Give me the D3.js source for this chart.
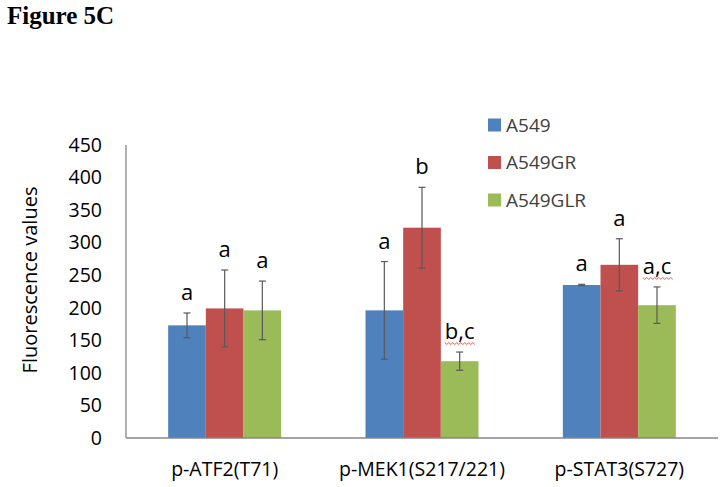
<!DOCTYPE html>
<html>
<head>
<meta charset="utf-8">
<script src="https://cdn.jsdelivr.net/npm/d3@7"></script>
<style>
  html, body { margin: 0; padding: 0; background: #fff; }
  svg { display: block; }
</style>
</head>
<body>
<svg id="chart" width="726" height="487"></svg>
<script>
const categories = ["p-ATF2(T71)", "p-MEK1(S217/221)", "p-STAT3(S727)"];
const seriesNames = ["A549", "A549GR", "A549GLR"];
const seriesColors = ["#4F81BD", "#C0504D", "#9BBB59"];
const a549Values = [173, 196, 235];
const a549Errors = [19, 75, 1];
const a549GRValues = [199, 323, 266];
const a549GRErrors = [59, 62, 40];
const a549GLRValues = [196, 118, 204];
const a549GLRErrors = [45, 14, 28];
const a549Letters = ["a", "a", "a"];
const a549GRLetters = ["a", "b", "a"];
const a549GLRLetters = ["a", "b,c", "a,c"];
const yTicks = [0, 50, 100, 150, 200, 250, 300, 350, 400, 450];

(function () {
const seriesValues = [a549Values, a549GRValues, a549GLRValues];
const seriesErrors = [a549Errors, a549GRErrors, a549GLRErrors];
const seriesLetters = [a549Letters, a549GRLetters, a549GLRLetters];

const data = [];
categories.forEach((c, ci) => {
  seriesNames.forEach((s, si) => {
    data.push({cat: c, series: s, si: si,
      value: seriesValues[si][ci], err: seriesErrors[si][ci], letter: seriesLetters[si][ci]});
  });
});

const svg = d3.select("#chart");
const font = "'Open Sans', 'Noto Sans', sans-serif";
const pLeft = 126, pRight = 718, pTop = 145, pBottom = 438;

const x0 = d3.scaleBand().domain(categories).range([pLeft, pRight]).paddingInner(0).paddingOuter(0);
const groupW = 113;
const x1 = d3.scaleBand().domain(seriesNames).range([0, groupW]).padding(0);
const y = d3.scaleLinear().domain([0, 450]).range([pBottom, pTop]);

// Title
svg.append("text").attr("x", 7).attr("y", 24)
  .attr("font-family", "'Liberation Serif', 'Times New Roman', serif")
  .attr("font-weight", "bold").attr("font-size", 25).attr("fill", "#000")
  .text("Figure 5C");

// Bars
const gx = c => x0(c) + (x0.bandwidth() - groupW) / 2;
svg.append("g").selectAll("rect").data(data).join("rect")
  .attr("x", d => gx(d.cat) + x1(d.series))
  .attr("y", d => y(d.value))
  .attr("width", x1.bandwidth())
  .attr("height", d => y(0) - y(d.value))
  .attr("fill", d => seriesColors[d.si]);

// Error bars
const eg = svg.append("g").attr("stroke", "#595959").attr("stroke-width", 1.2);
data.forEach(d => {
  const cx = gx(d.cat) + x1(d.series) + x1.bandwidth() / 2;
  const yt = y(d.value + d.err), yb = y(d.value - d.err);
  eg.append("line").attr("x1", cx).attr("x2", cx).attr("y1", yt).attr("y2", yb);
  eg.append("line").attr("x1", cx - 3.5).attr("x2", cx + 3.5).attr("y1", yt).attr("y2", yt);
  eg.append("line").attr("x1", cx - 3.5).attr("x2", cx + 3.5).attr("y1", yb).attr("y2", yb);
});

// Letters
const lg = svg.append("g");
data.forEach(d => {
  const cx = gx(d.cat) + x1(d.series) + x1.bandwidth() / 2;
  const yt = y(d.value + d.err);
  const t = lg.append("text").attr("x", cx).attr("y", yt - 13)
    .attr("text-anchor", "middle").attr("font-family", font).attr("font-size", 22)
    .attr("fill", "#000").text(d.letter);
  if (d.letter.includes(",")) {
    const w = t.node().getComputedTextLength();
    let p = "";
    const xs = cx - w / 2, yw = yt - 8.5;
    for (let i = 0; i <= Math.ceil(w / 2); i++) {
      p += (i === 0 ? "M" : "L") + (xs + i * 2) + "," + (yw + (i % 2 ? 1 : -1) * 0.9);
    }
    lg.append("path").attr("d", p).attr("fill", "none").attr("stroke", "#e03030").attr("stroke-width", 0.8);
  }
});

// Axes
const axisColor = "#868686";
svg.append("line").attr("x1", pLeft).attr("x2", pLeft).attr("y1", pTop).attr("y2", pBottom)
  .attr("stroke", axisColor).attr("stroke-width", 1.3);
svg.append("line").attr("x1", pLeft).attr("x2", pRight).attr("y1", pBottom).attr("y2", pBottom)
  .attr("stroke", axisColor).attr("stroke-width", 1.3);

const yAxis = d3.axisLeft(y).tickValues(yTicks).tickSize(0).tickPadding(24);
const yg = svg.append("g").attr("transform", `translate(${pLeft},0)`).call(yAxis);
yg.select(".domain").remove();
yg.selectAll("text").attr("font-family", font).attr("font-size", 19.5).attr("fill", "#000");

const xAxis = d3.axisBottom(x0).tickSize(0).tickPadding(24);
const xg = svg.append("g").attr("transform", `translate(0,${pBottom})`).call(xAxis);
xg.select(".domain").remove();
xg.selectAll("text").attr("font-family", font).attr("font-size", 19.5).attr("fill", "#000");

// Y title
svg.append("text").attr("transform", "translate(37,280) rotate(-90)")
  .attr("text-anchor", "middle").attr("font-family", font).attr("font-size", 20)
  .attr("fill", "#000").text("Fluorescence values");

// Legend
const leg = svg.append("g");
seriesNames.forEach((s, i) => {
  const yy = 125 + i * 37.5;
  leg.append("rect").attr("x", 488).attr("y", yy - 6.5).attr("width", 13).attr("height", 13)
    .attr("fill", seriesColors[i]);
  leg.append("text").attr("x", 506).attr("y", yy).attr("dy", "0.35em")
    .attr("font-family", font).attr("font-size", 19).attr("fill", "#404040").text(s);
});
})();
</script>
</body>
</html>
